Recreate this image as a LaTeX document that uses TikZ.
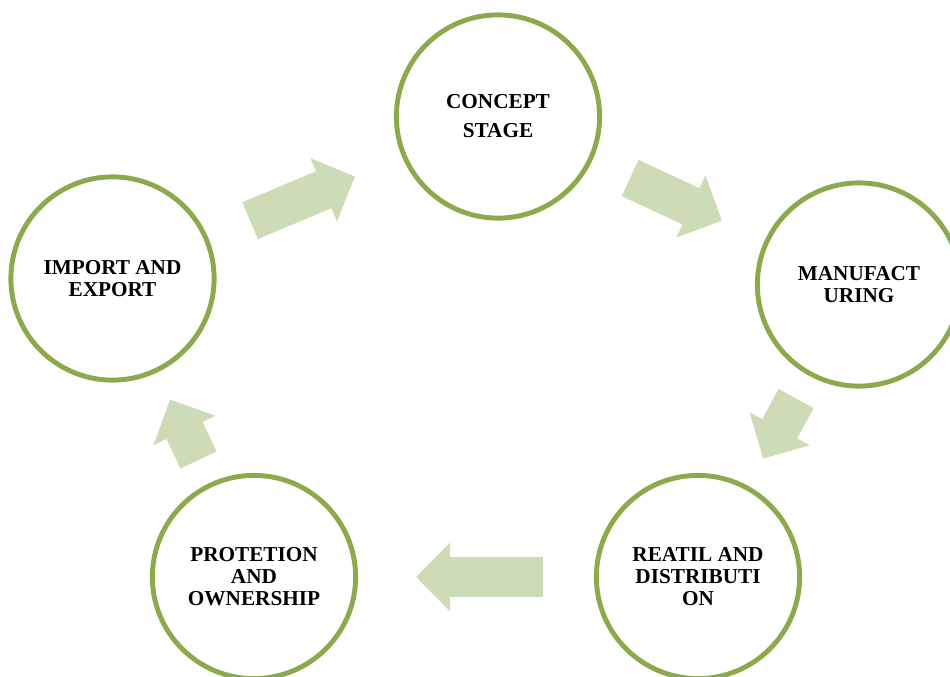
\documentclass[tikz,border=0pt]{standalone}
\usepackage{fontspec}
\setmainfont{Liberation Serif}
\usetikzlibrary{calc,arrows.meta}
\definecolor{stagegreen}{RGB}{139,170,76}
\definecolor{flowgreen}{RGB}{205,220,182}
\tikzset{
	stage/.style={circle, draw=stagegreen, line width=3.5pt, fill=white, minimum size=5.08cm, inner sep=0pt, align=center, font=\bfseries\fontsize{15.1}{15.6}\selectfont},
	flow/.style={color=flowgreen, line width=1cm, -{Triangle[length=0.85cm,width=1.72cm,line width=0pt]}}
}
\def\flowarrow(#1)(#2)(#3:#4){\draw[flow] ($(#1)!#3!(#2)$) -- ($(#1)!#4!(#2)$);}

\begin{document}
\begin{tikzpicture}[x=0.025cm, y=-0.025cm]
			%%%%% START %%%%%
			\useasboundingbox (0, 0) rectangle (950, 677);
			
			\node[stage] (con) at (498, 116.5) {CONCEPT\\[5pt]STAGE};
			\node[stage] (man) at (859, 284.5) {MANUFACT\\URING};
			\node[stage] (ret) at (698, 577) {REATIL AND\\DISTRIBUTI\\ON};
			\node[stage] (pro) at (254, 577) {PROTETION\\AND\\OWNERSHIP};
			\node[stage] (imp) at (112.5, 278.5) {IMPORT AND\\EXPORT};
			
			\flowarrow(imp)(con)(0.357:0.629)
			\flowarrow(con)(man)(0.366:0.620)
			\flowarrow(man)(ret)(0.39:0.595)
			\flowarrow(ret)(pro)(0.349:0.635)
			\flowarrow(pro)(imp)(0.392:0.594)
			
			%%%%% END %%%%%
\end{tikzpicture}
\end{document}
